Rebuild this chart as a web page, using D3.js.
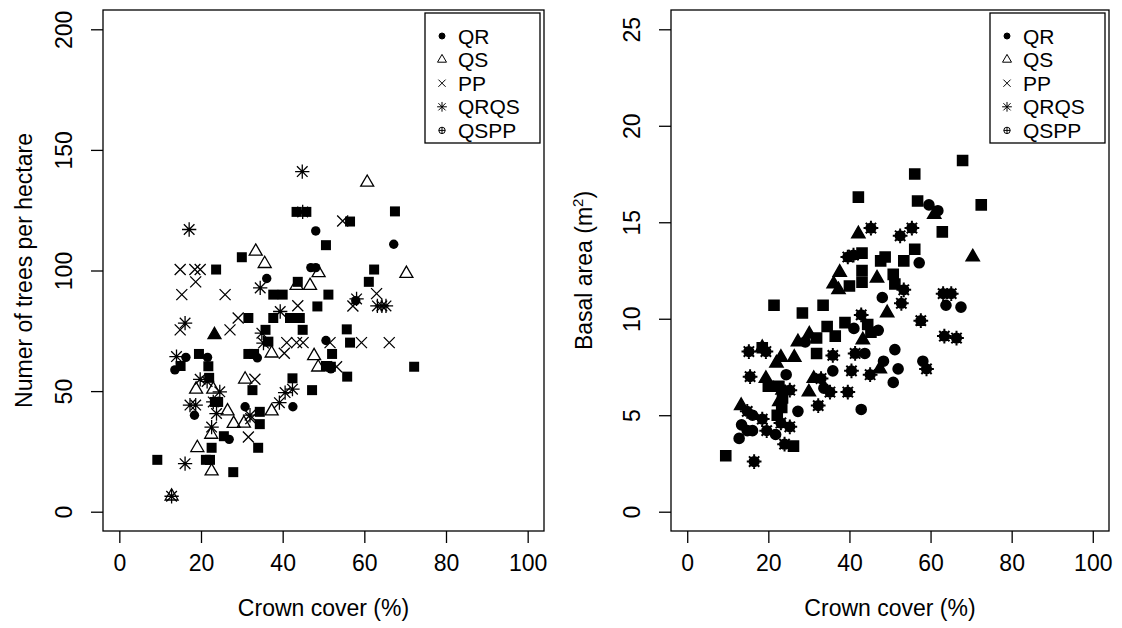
<!DOCTYPE html>
<html>
<head>
<meta charset="utf-8">
<script src="https://cdn.jsdelivr.net/npm/d3@7"></script>
<style>
  body { margin: 0; background: #fff; }
  text { font-family: "Liberation Sans", Arial, sans-serif; fill: #000; }
</style>
</head>
<body>
<svg id="chart" width="1122" height="628"></svg>
<script>
// axis ticks and legend
var xTicks = [0, 20, 40, 60, 80, 100];
var treeTicks = [0, 50, 100, 150, 200];
var basalTicks = [0, 5, 10, 15, 20, 25];
var legendNames = ["QR", "QS", "PP", "QRQS", "QSPP"];
var legendShapes = ["dot", "triangle", "cross", "asterisk", "circleplus"];

// left panel: crown cover (%) vs trees per hectare
var treesQR = [[48.1,116.4],[67.2,110.9],[36.1,96.7],[46.9,101.2],[48.1,101.2],[57.9,87.5],[50.6,71],
  [16.3,64],[13.6,58.8],[21.6,64],[33.8,63.8],[18.4,40],[30.8,43.5],[42.5,43.5],[26.9,30],[51.8,59.2]];
var treesQS = [[60.7,136.5],[33.4,107.9],[35.6,102.8],[48.8,99],[70.3,98.7],[43.4,93.7],[46.7,93.7],
  [37.3,65.7],[47.7,64.6],[48.7,59.9],[30.8,54.9],[18.8,50.7],[23,50.7],[26.5,41.7],[28,36.5],
  [30.5,36.6],[37.3,41.7],[22.5,32],[19.1,26.5],[22.6,16.8],[12.8,6.4]];
var treesQSfill = [[23.3,73.3]];
var treesPP = [[14.9,100.4],[18.5,100.4],[19.8,100.4],[18.7,95.3],[15.3,90],[25.9,90],[14.9,75.4],
  [27.1,75.4],[29.1,80.3],[43.7,85.4],[41,70.1],[43.4,70.1],[45,70.1],[54.7,120.5],[63,90.4],
  [57.2,85.3],[59.3,70.1],[66.1,70.1],[51.6,70.1],[53.2,60.1],[40.4,65.7],[33.2,54.9],[31.6,31],[32.2,38.6]];
var treesQRQS = [[44.8,141],[17.1,117],[34.5,92.8],[39.4,83],[16.1,78.2],[58.1,88.2],[63.2,85.3],
  [64.3,85.3],[65.3,85.3],[44.9,124.3],[14,64.3],[35.3,69.9],[34.9,74],[19.8,54.9],[24.6,49.7],
  [18.7,44.2],[17.3,44.2],[23,45.5],[23.8,40.7],[22.6,35.1],[32,40],[39.2,45.2],[40.6,49.4],
  [42.4,50.8],[16.1,19.9],[12.8,6.4],[21.5,54]];
var treesSquare = [[9.3,21.5],[21.2,21.5],[22.2,21.5],[27.9,16.4],[22.6,26.5],[34,26.5],[25.6,31.3],
  [34.4,36.3],[34.4,41.4],[23.4,45.5],[24.2,45.5],[22,55.5],[21.8,60.3],[19.5,65.4],[15,60.4],
  [32.6,50.4],[31.6,65.4],[33,65.4],[42.4,55.3],[47.2,50.4],[50.6,60.4],[30,105.5],[23.7,100.4],
  [37.7,90],[40,90],[31.6,80.3],[35.8,75.4],[37.7,80.3],[41.8,80.3],[44.2,80.3],[44.9,75.4],
  [36.5,70.5],[43.4,124.3],[45.8,124.3],[43.7,95.3],[48.5,85.1],[50.6,110.5],[51.2,90],[67.5,124.5],
  [56.5,120.3],[62.4,100.4],[61.1,95.3],[55.7,75.6],[56.5,70.1],[52.1,65.4],[55.8,56],[72.2,60.1],[51.8,60.1]];

// right panel: crown cover (%) vs basal area
var basalSquare = [[9.5,2.9],[26.2,3.4],[22.2,5.0],[23.3,5.4],[20,6.5],[22.6,6.5],[23.5,5.9],[28.4,10.3],
  [21.4,10.7],[33.5,10.7],[31.9,8.2],[31.9,9.0],[34.5,9.6],[36.5,9.1],[38.9,9.8],[44.5,9.7],[45.3,9.3],
  [40,11.7],[43.1,13.4],[42.2,16.3],[43.1,12.5],[43.1,11.9],[47.7,13.0],[48.8,13.2],[53.4,13.0],
  [50.8,12.3],[51.2,11.8],[56.1,17.5],[56.8,16.1],[67.9,18.2],[72.5,15.9],[62.9,14.5],[56.1,13.6],[18.5,8.5]];
var basalQR = [[12.8,3.8],[21.8,4.0],[13.4,4.5],[14.8,4.2],[16.1,4.2],[16.1,5.0],[27.3,5.2],[42.9,5.3],
  [24.4,7.1],[29.1,8.8],[33.7,6.4],[35.9,7.3],[41.1,9.5],[43.8,8.2],[47.1,9.4],[48.4,7.8],[50.8,6.7],
  [51.2,8.4],[48.1,11.1],[59.6,15.9],[61.8,15.6],[57.2,12.9],[63.8,10.7],[67.5,10.6],[58.1,7.8],[52,7.4]];
var basalQS = [[13.3,5.5],[19.4,6.9],[22,7.7],[23.1,8.0],[23.5,6.3],[22.7,5.7],[18.5,8.5],[26.4,8.0],
  [27.3,8.8],[31.2,6.9],[30,6.2],[30.1,9.2],[43.3,8.9],[47.5,7.4],[49.3,10.3],[37.6,12.4],[36.1,11.8],
  [37.3,11.5],[42.2,14.4],[46.8,12.1],[60.9,15.4],[70.4,13.2]];
var basalQRQS = [[16.5,2.6],[24,3.5],[25.3,4.4],[19.6,4.2],[23.1,4.6],[14.8,5.2],[18.5,4.8],[32.3,5.5],
  [15.5,7.0],[25.3,6.3],[15.2,8.3],[19.4,8.3],[33,6.9],[35.9,8.1],[35.2,6.2],[39.6,6.2],[40.5,7.3],
  [41.4,8.2],[42.9,10.2],[45.1,7.1],[39.6,13.2],[45.3,14.7],[53.4,11.5],[52.8,10.8],[55.4,14.7],
  [52.5,14.3],[63.1,11.3],[65.1,11.3],[57.6,9.9],[63.4,9.1],[66.4,9.0],[59,7.4],[41,13.3]];

var svg = d3.select("#chart");

function shape(type, s) {
  var a = s, r;
  switch (type) {
    case "dot":
    case "circle":
      return d3.symbol(d3.symbolCircle, Math.PI * s * s)();
    case "square":
      return "M" + -a + "," + -a + "H" + a + "V" + a + "H" + -a + "Z";
    case "triangle":
      var h = s * 0.866;
      return "M0," + (-2 * h / 3) + "L" + (s / 2) + "," + (h / 3) + "L" + (-s / 2) + "," + (h / 3) + "Z";
    case "cross":
      return "M" + -a + "," + -a + "L" + a + "," + a + "M" + -a + "," + a + "L" + a + "," + -a;
    case "asterisk":
      r = a * 1.35;
      return "M" + -a + "," + -a + "L" + a + "," + a + "M" + -a + "," + a + "L" + a + "," + -a +
             "M0," + -r + "V" + r + "M" + -r + ",0H" + r;
    case "star":
      r = s * 1.6;
      return d3.symbol(d3.symbolCircle, Math.PI * s * s)() +
             "M" + (-r * 0.7) + "," + (-r * 0.7) + "L" + (r * 0.7) + "," + (r * 0.7) +
             "M" + (-r * 0.7) + "," + (r * 0.7) + "L" + (r * 0.7) + "," + (-r * 0.7) +
             "M0," + -r + "V" + r + "M" + -r + ",0H" + r;
    case "circleplus":
      return d3.symbol(d3.symbolCircle, Math.PI * s * s)() +
             "M0," + -s + "V" + s + "M" + -s + ",0H" + s;
  }
}

function panel(p) {
  var x = d3.scaleLinear().domain([-4, 104]).range([p.left, p.right]),
      y = d3.scaleLinear().domain(p.ydom).range([531, 10]),
      g = svg.append("g");

  var gx = g.append("g")
    .attr("transform", "translate(0,531)")
    .call(d3.axisBottom(x).tickValues(xTicks).tickSize(12).tickSizeOuter(0));
  gx.attr("font-size", null).attr("font-family", null);
  gx.select(".domain").remove();
  gx.selectAll(".tick line").attr("stroke", "#000").attr("stroke-width", 1.3);
  gx.selectAll(".tick text").attr("y", 40).attr("dy", null).style("font-size", "23px");

  var gy = g.append("g")
    .attr("transform", "translate(" + p.left + ",0)")
    .call(d3.axisLeft(y).tickValues(p.ticks).tickSize(12).tickSizeOuter(0));
  gy.attr("font-size", null).attr("font-family", null);
  gy.select(".domain").remove();
  gy.selectAll(".tick line").attr("stroke", "#000").attr("stroke-width", 1.3);
  gy.selectAll(".tick text")
    .attr("transform", "rotate(-90)")
    .attr("x", 0).attr("y", -31).attr("dy", null)
    .attr("text-anchor", "middle")
    .style("font-size", "23px");

  g.append("rect")
    .attr("x", p.left).attr("y", 10)
    .attr("width", p.right - p.left).attr("height", 521)
    .attr("fill", "none").attr("stroke", "#000").attr("stroke-width", 1.3);

  g.append("text")
    .attr("x", (p.left + p.right) / 2).attr("y", 616)
    .attr("text-anchor", "middle").style("font-size", "23px")
    .text("Crown cover (%)");

  var yl = g.append("text")
    .attr("transform", "translate(" + p.ylabX + ",270.5) rotate(-90)")
    .attr("text-anchor", "middle").style("font-size", "23px");
  p.ylab(yl);

  p.series.forEach(function(s) {
    g.append("g").selectAll("path")
      .data(s.data)
      .join("path")
      .attr("transform", function(d) { return "translate(" + x(d[0]) + "," + y(d[1]) + ")"; })
      .attr("d", shape(s.type, s.size))
      .attr("fill", s.fill)
      .attr("stroke", "#000")
      .attr("stroke-width", s.sw);
  });

  // legend, top right of the box
  var lx = p.right - 119, lg = g.append("g");
  lg.append("rect")
    .attr("x", lx).attr("y", 13).attr("width", 115).attr("height", 130)
    .attr("fill", "#fff").attr("stroke", "#000").attr("stroke-width", 1.3);
  legendNames.forEach(function(n, i) {
    var ry = 36 + i * 23.6;
    var t = legendShapes[i];
    lg.append("path")
      .attr("transform", "translate(" + (lx + 17) + "," + ry + ")")
      .attr("d", shape(t, t == "dot" ? 3 : t == "triangle" ? 9 : t == "circleplus" ? 3.2 : 3.6))
      .attr("fill", t == "dot" ? "#000" : "none")
      .attr("stroke", "#000").attr("stroke-width", 1);
    lg.append("text")
      .attr("x", lx + 33).attr("y", ry + 7.5)
      .style("font-size", "21px")
      .text(n);
  });
}

panel({
  left: 103, right: 544, ydom: [-8, 208], ticks: treeTicks, ylabX: 32,
  ylab: function(t) { t.text("Numer of trees per hectare"); },
  series: [
    { data: treesSquare, type: "square", size: 5, fill: "#000", sw: 0 },
    { data: treesQR, type: "circle", size: 4.7, fill: "#000", sw: 0 },
    { data: treesQS, type: "triangle", size: 13, fill: "none", sw: 1.3 },
    { data: treesQSfill, type: "triangle", size: 13, fill: "#000", sw: 1.3 },
    { data: treesPP, type: "cross", size: 5.5, fill: "none", sw: 1.3 },
    { data: treesQRQS, type: "asterisk", size: 5.3, fill: "none", sw: 1.3 }
  ]
});

panel({
  left: 671, right: 1109, ydom: [-1, 26], ticks: basalTicks, ylabX: 592,
  ylab: function(t) {
    t.append("tspan").text("Basal area (m");
    t.append("tspan").attr("dy", -9).style("font-size", "15px").text("2");
    t.append("tspan").attr("dy", 9).text(")");
  },
  series: [
    { data: basalSquare, type: "square", size: 5, fill: "#000", sw: 1.6 },
    { data: basalQR, type: "circle", size: 5, fill: "#000", sw: 1.6 },
    { data: basalQS, type: "triangle", size: 13, fill: "#000", sw: 1.6 },
    { data: basalQRQS, type: "star", size: 4.6, fill: "#000", sw: 2 }
  ]
});
</script>
</body>
</html>
